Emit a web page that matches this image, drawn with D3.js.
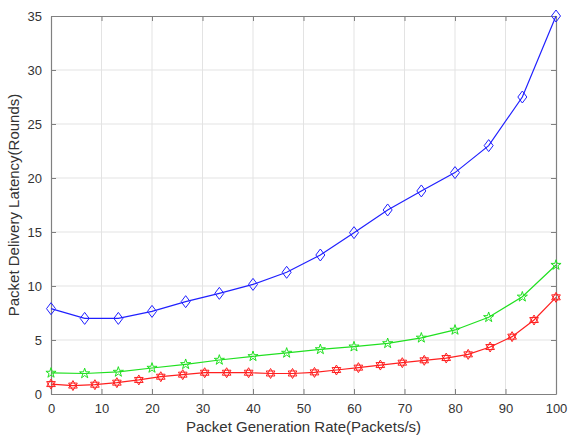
<!DOCTYPE html>
<html>
<head>
<meta charset="utf-8">
<script src="https://cdn.jsdelivr.net/npm/d3@7"></script>
<style>
  body { margin: 0; background: #fff; }
  svg { display: block; font-family: 'Liberation Sans', Arial, sans-serif; }
</style>
</head>
<body>
<svg id="chart"></svg>
<script>
const width = 568
const height = 438

// blue / green series share x positions, red is denser
const xCoarse = d3.range(16).map(i => i * 100 / 15)
const xFine = d3.range(24).map(i => i * 100 / 23)
const blueValues = [7.9, 7.0, 7.0, 7.65, 8.55, 9.32, 10.15, 11.27, 12.87, 14.94, 17.04, 18.8, 20.5, 23.0, 27.5, 35.0]
const greenValues = [1.95, 1.9, 2.04, 2.41, 2.75, 3.15, 3.49, 3.8, 4.13, 4.38, 4.69, 5.2, 5.93, 7.1, 9.0, 11.94]
const redValues = [0.92, 0.78, 0.86, 1.05, 1.3, 1.6, 1.79, 1.97, 1.97, 1.97, 1.9, 1.9, 2.0, 2.22, 2.44, 2.68, 2.9, 3.12, 3.33, 3.67, 4.35, 5.31, 6.85, 8.95]
const xTicks = d3.range(0, 101, 10)
const yTicks = d3.range(0, 36, 5)

const margin = { top: 16, right: 12, bottom: 44, left: 51 }

const x = d3.scaleLinear()
  .domain([0, 100])
  .range([margin.left, width - margin.right])

const y = d3.scaleLinear()
  .domain([0, 35])
  .range([height - margin.bottom, margin.top])

const svg = d3.select('#chart')
  .attr('width', width)
  .attr('height', height)

// grid
svg.append('g')
  .selectAll('line')
  .data(xTicks.slice(1, -1))
  .enter().append('line')
  .attr('x1', d => x(d)).attr('x2', d => x(d))
  .attr('y1', y(0)).attr('y2', y(35))
  .attr('stroke', '#e3e3e3')
svg.append('g')
  .selectAll('line')
  .data(yTicks.slice(1, -1))
  .enter().append('line')
  .attr('x1', x(0)).attr('x2', x(100))
  .attr('y1', d => y(d)).attr('y2', d => y(d))
  .attr('stroke', '#e3e3e3')

// axes (box on, ticks inside)
const axisColor = '#808080'
const textColor = '#333'
const axisB = svg.append('g')
  .attr('transform', `translate(0,${y(0)})`)
  .call(d3.axisBottom(x).tickValues(xTicks).tickSizeInner(-5).tickSizeOuter(0).tickPadding(10))
const axisT = svg.append('g')
  .attr('transform', `translate(0,${y(35)})`)
  .call(d3.axisTop(x).tickValues(xTicks).tickSizeInner(-5).tickSizeOuter(0).tickFormat(''))
const axisL = svg.append('g')
  .attr('transform', `translate(${x(0)},0)`)
  .call(d3.axisLeft(y).tickValues(yTicks).tickSizeInner(-5).tickSizeOuter(0).tickPadding(9))
const axisR = svg.append('g')
  .attr('transform', `translate(${x(100)},0)`)
  .call(d3.axisRight(y).tickValues(yTicks).tickSizeInner(-5).tickSizeOuter(0).tickFormat(''))

;[axisB, axisT, axisL, axisR].forEach(g => {
  g.select('.domain').attr('stroke', axisColor).attr('stroke-width', 1.2)
  g.selectAll('.tick line').attr('stroke', axisColor)
  g.selectAll('.tick text')
    .attr('fill', textColor)
    .style('font-size', '13px')
})

// series
const line = d3.line()
  .x(d => x(d[0]))
  .y(d => y(d[1]))

const series = [
  { color: '#2020ff', pts: d3.zip(xCoarse, blueValues), marker: 'diamond' },
  { color: '#20e020', pts: d3.zip(xCoarse, greenValues), marker: 'star' },
  { color: '#ff2020', pts: d3.zip(xFine, redValues), marker: 'hex' }
]

const diamond = 'M0,-6L4.5,0L0,6L-4.5,0Z'
const star = d3.symbol(d3.symbolStar, 32)()
// hexagram: two overlapping triangles
const tri = (r, rot) => d3.range(3).map(k => {
  const a = rot + k * 2 * Math.PI / 3
  return [r * Math.sin(a), -r * Math.cos(a)]
})
const hexPath = 'M' + tri(5, 0).join('L') + 'Z' + 'M' + tri(5, Math.PI).join('L') + 'Z'
const markers = { diamond: diamond, star: star, hex: hexPath }

series.forEach(s => {
  const g = svg.append('g')
  g.append('path')
    .attr('d', line(s.pts))
    .attr('fill', 'none')
    .attr('stroke', s.color)
    .attr('stroke-width', 1.2)
  g.selectAll('path.mk')
    .data(s.pts)
    .enter().append('path')
    .attr('class', 'mk')
    .attr('d', markers[s.marker])
    .attr('transform', d => `translate(${x(d[0])},${y(d[1])})`)
    .attr('fill', 'none')
    .attr('stroke', s.color)
    .attr('stroke-width', 1)
})

// titles
svg.append('text')
  .attr('x', (x(0) + x(100)) / 2)
  .attr('y', 432)
  .attr('text-anchor', 'middle')
  .attr('fill', textColor)
  .style('font-size', '15px')
  .text('Packet Generation Rate(Packets/s)')

svg.append('text')
  .attr('transform', `translate(19,${(y(0) + y(35)) / 2}) rotate(-90)`)
  .attr('text-anchor', 'middle')
  .attr('fill', textColor)
  .style('font-size', '15px')
  .text('Packet Delivery Latency(Rounds)')
</script>
</body>
</html>
